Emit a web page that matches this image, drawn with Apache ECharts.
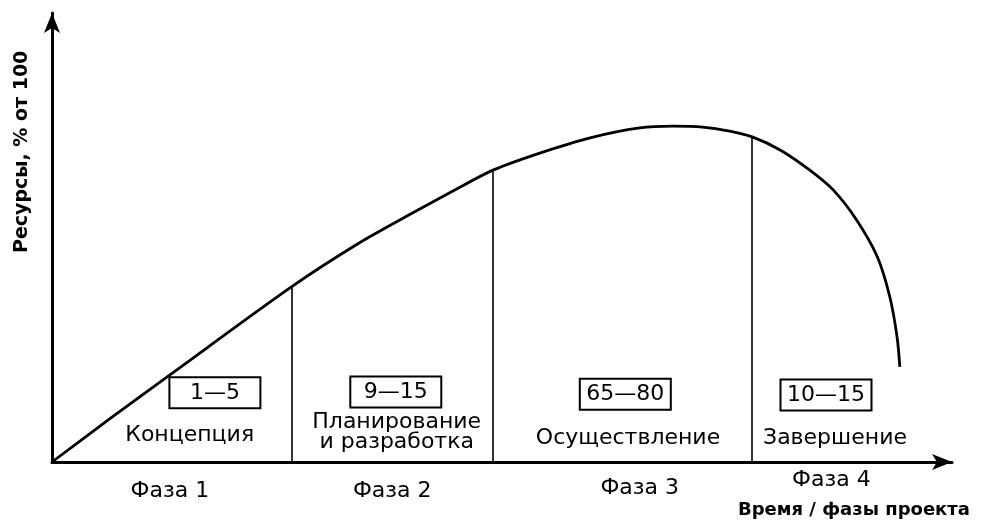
<!DOCTYPE html>
<html>
<head>
<meta charset="utf-8">
<script src="https://cdn.jsdelivr.net/npm/echarts@6/dist/echarts.min.js"></script>
<style>html,body{margin:0;padding:0;background:#fff;}#c{width:984px;height:526px;}</style>
</head>
<body>
<div id="c"></div>
<script>
// Resource curve (time %, resources %)
var curveX = [0, 6.4, 13.1, 26.6, 33.9, 40.1, 44.6, 49.0, 54.2, 59.8, 65.3, 69.0, 72.3, 75.3, 77.8, 80.9, 84.2, 86.8, 89.4, 91.7, 93.1, 93.9, 94.2];
var curveY = [0, 9.6, 19.4, 39.0, 48.5, 55.5, 60.4, 65.0, 68.8, 72.2, 74.4, 74.8, 74.6, 73.7, 72.4, 69.5, 65.0, 60.6, 53.9, 45.7, 36.7, 27.8, 21.2];
// Phase boundaries
var boundaryX = [26.6, 49.0, 77.7];
var boundaryTop = [39.0, 65.0, 72.4];
// Phase annotations
var rangeLabels = ['1\u20145', '9\u201415', '65\u201480', '10\u201415'];
var rangeX = [18.1, 38.2, 63.7, 86.0];
var rangeY = [15.4, 15.6, 15.1, 14.9];
var phaseNames = ['Концепция', 'Планирование\nи разработка', 'Осуществление', 'Завершение'];
var phaseNameX = [15.3, 38.3, 64.0, 87.0];
var phaseNameY = [6.0, 6.7, 5.3, 5.3];
var phaseLabels = ['Фаза 1', 'Фаза 2', 'Фаза 3', 'Фаза 4'];
var phaseLabelX = [13.1, 37.8, 65.3, 86.6];
var phaseLabelY = [-6.5, -6.5, -5.8, -4.0];
var xTitle = 'Время / фазы проекта';
var yTitle = 'Ресурсы, % от 100';

var FONT = '"DejaVu Sans", sans-serif';
var INK = '#000000';

function zip(xs, ys) { return xs.map(function (x, i) { return [x, ys[i]]; }); }

function textSeries(xs, ys, names, extra) {
  var label = {
    show: true, position: 'inside', formatter: '{b}', color: INK, opacity: 1,
    textBorderWidth: 0, textShadowBlur: 0,
    fontFamily: FONT, fontSize: 22, align: 'center', verticalAlign: 'middle'
  };
  for (var k in extra) label[k] = extra[k];
  return {
    type: 'scatter', symbolSize: 0, clip: false, silent: true,
    itemStyle: {color: INK},
    data: zip(xs, ys).map(function (p, i) { return {value: p, name: names[i]}; }),
    label: label
  };
}

var chart = echarts.init(document.getElementById('c'), null, {renderer: 'canvas'});
chart.setOption({
  backgroundColor: '#ffffff',
  animation: false,
  grid: {left: 52, right: 32, top: 13, bottom: 64},
  xAxis: {
    type: 'value', min: 0, max: 100,
    axisLine: {show: true, symbol: ['none', 'arrow'], symbolSize: [12, 20], lineStyle: {color: INK, width: 3}},
    axisTick: {show: false}, axisLabel: {show: false}, splitLine: {show: false}
  },
  yAxis: {
    type: 'value', min: 0, max: 100,
    axisLine: {show: true, symbol: ['none', 'arrow'], symbolSize: [12, 20], lineStyle: {color: INK, width: 3}},
    axisTick: {show: false}, axisLabel: {show: false}, splitLine: {show: false}
  },
  graphic: [
    {type: 'text', left: 738, top: 501, style: {text: xTitle, font: 'bold 18px ' + FONT, fill: INK}},
    {type: 'text', x: 13, y: 253, rotation: Math.PI / 2, style: {text: yTitle, font: 'bold 19px ' + FONT, fill: INK}}
  ],
  series: [
    {
      type: 'line', data: zip(curveX, curveY), smooth: 0.3, showSymbol: false,
      lineStyle: {color: INK, width: 2.8},
      markLine: {
        silent: true, symbol: 'none', label: {show: false},
        lineStyle: {color: INK, width: 1.6, type: 'solid'},
        data: boundaryX.map(function (x, i) { return [{coord: [x, 0]}, {coord: [x, boundaryTop[i]]}]; })
      }
    },
    textSeries(rangeX, rangeY, rangeLabels, {width: 91, lineHeight: 22, padding: [5, 0, 4, 0], borderColor: INK, borderWidth: 2}),
    textSeries(phaseNameX, phaseNameY, phaseNames, {lineHeight: 20}),
    textSeries(phaseLabelX, phaseLabelY, phaseLabels, {})
  ]
});
</script>
</body>
</html>
